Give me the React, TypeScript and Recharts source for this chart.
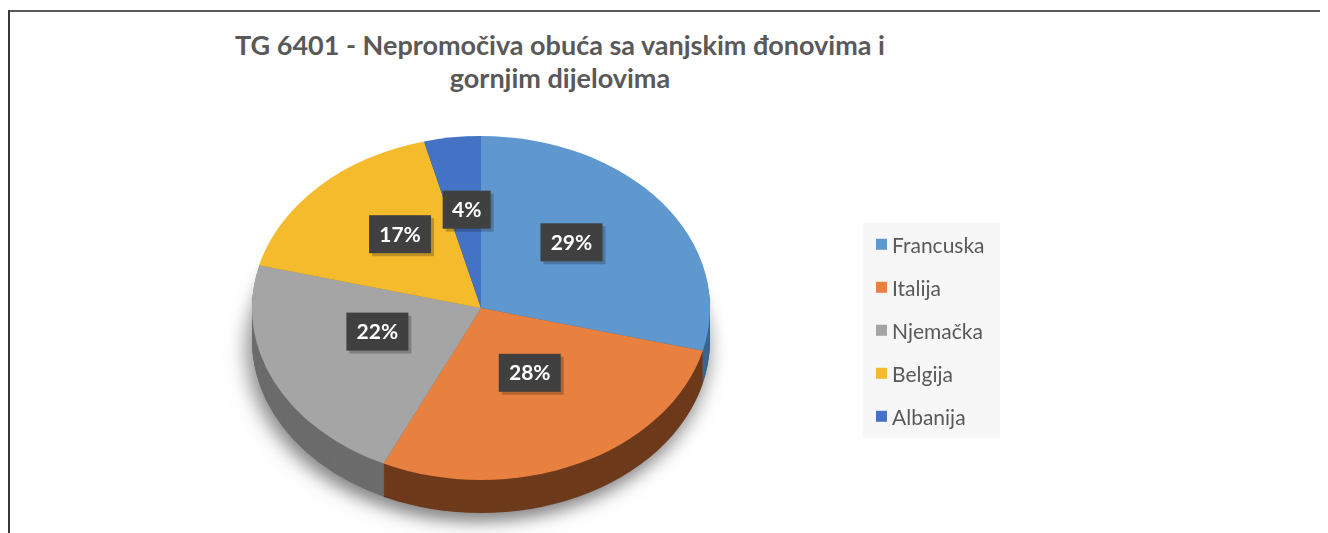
import { Cell, Legend, Pie, PieChart } from "recharts";

const countries = ["Francuska", "Italija", "Njemačka", "Belgija", "Albanija"];
const shares = [29, 28, 22, 17, 4];

const TOP_COLORS = ["#5f98cf", "#e8803f", "#a5a5a5", "#f4bc2c", "#4472c4"];
const SIDE_COLORS = ["#3a6690", "#6e3a1c", "#6c6c6c", "#a57f1d", "#2e4d86"];

const data = countries.map((name, i) => ({ name, value: shares[i] }));

// squash factor for the tilted look, and pie placement (unscaled coords)
const S = 0.751;
const CX = 473;
const CY = 300 / S;
const R = 229;
const LAYERS = Array.from({ length: 22 }, (_, k) => 22 - k);
const RAD = Math.PI / 180;

const renderLabel = (props: any) => {
  const { cx, cy, midAngle, outerRadius, percent } = props;
  const r = outerRadius * 0.5;
  const x = cx + r * Math.cos(-midAngle * RAD);
  const y = cy + r * Math.sin(-midAngle * RAD) - 13 / S;
  const txt = `${Math.round(percent * 100)}%`;
  const w = txt.length * 14 + 20;
  const h = 38;
  return (
    <g transform={`translate(${x},${y}) scale(1,${1 / S})`}>
      <rect x={-w / 2 + 3} y={-h / 2 + 3} width={w} height={h} fill="rgba(0,0,0,0.22)" />
      <rect x={-w / 2} y={-h / 2} width={w} height={h} fill="#404040" />
      <text
        x={0}
        y={0}
        dy="0.36em"
        textAnchor="middle"
        fill="#ffffff"
        fontWeight="bold"
        fontSize={21}
        fontFamily="Lato, 'Open Sans', sans-serif"
      >
        {txt}
      </text>
    </g>
  );
};

// side layers also report legend entries, so keep one per country
const renderLegend = (props: any) => {
  const names = (props.payload || []).map((p: any) => p.value);
  const items = countries.filter((c) => names.includes(c));
  return (
    <div
      style={{
        background: "#f7f7f7",
        width: 137,
        height: 215,
        paddingLeft: 13,
        boxSizing: "border-box",
        fontFamily: "Lato, 'Open Sans', sans-serif",
        fontSize: 21,
        color: "#595959",
      }}
    >
      {items.map((name) => (
        <div key={name} style={{ display: "flex", alignItems: "center", height: 43 }}>
          <span
            style={{
              display: "inline-block",
              width: 11,
              height: 11,
              marginRight: 5,
              background: TOP_COLORS[countries.indexOf(name)],
            }}
          />
          {name}
        </div>
      ))}
    </div>
  );
};

export default function App() {
  return (
    <div style={{ position: "relative", width: 1312, height: 525, overflow: "hidden" }}>
      <style>{`.pie-base { filter: drop-shadow(-3px 10px 10px rgba(0,0,0,0.28)); }`}</style>
      <div style={{ position: "absolute", left: 0, right: 0, top: 2, height: 2, background: "#5a5a5a" }} />
      <div style={{ position: "absolute", left: 0, width: 2, top: 2, bottom: 0, background: "#383838" }} />

      <div
        style={{
          position: "absolute",
          left: 152,
          top: 20,
          width: 800,
          textAlign: "center",
          fontFamily: "Lato, 'Open Sans', sans-serif",
          fontWeight: "bold",
          fontSize: 27,
          lineHeight: "33px",
          color: "#595959",
        }}
      >
        TG 6401 - Nepromočiva obuća sa vanjskim đonovima i
        <br />
        gornjim dijelovima
      </div>

      <div
        style={{
          position: "absolute",
          left: 0,
          top: 0,
          transform: `scaleY(${S})`,
          transformOrigin: "top left",
        }}
      >
        <PieChart width={1312} height={Math.round(525 / S)} margin={{ top: 0, right: 0, bottom: 0, left: 0 }}>
          {LAYERS.map((k) => (
            <Pie
              key={`side-${k}`}
              className={k === LAYERS[0] ? "pie-base" : undefined}
              data={data}
              dataKey="value"
              nameKey="name"
              cx={CX}
              cy={CY + k * 2}
              outerRadius={R}
              startAngle={90}
              endAngle={-270}
              stroke="none"
              legendType="none"
              isAnimationActive={false}
            >
              {data.map((entry, i) => (
                <Cell key={`s-${k}-${entry.name}`} fill={SIDE_COLORS[i]} />
              ))}
            </Pie>
          ))}
          <Pie
            data={data}
            dataKey="value"
            nameKey="name"
            cx={CX}
            cy={CY}
            outerRadius={R}
            startAngle={90}
            endAngle={-270}
            stroke="none"
            label={renderLabel}
            labelLine={false}
            isAnimationActive={false}
          >
            {data.map((entry, i) => (
              <Cell key={`t-${entry.name}`} fill={TOP_COLORS[i]} />
            ))}
          </Pie>
          <Legend
            content={renderLegend}
            wrapperStyle={{
              position: "absolute",
              left: 855,
              top: 215 / S,
              width: 137,
              transform: `scaleY(${1 / S})`,
              transformOrigin: "top left",
            }}
          />
        </PieChart>
      </div>
    </div>
  );
}
